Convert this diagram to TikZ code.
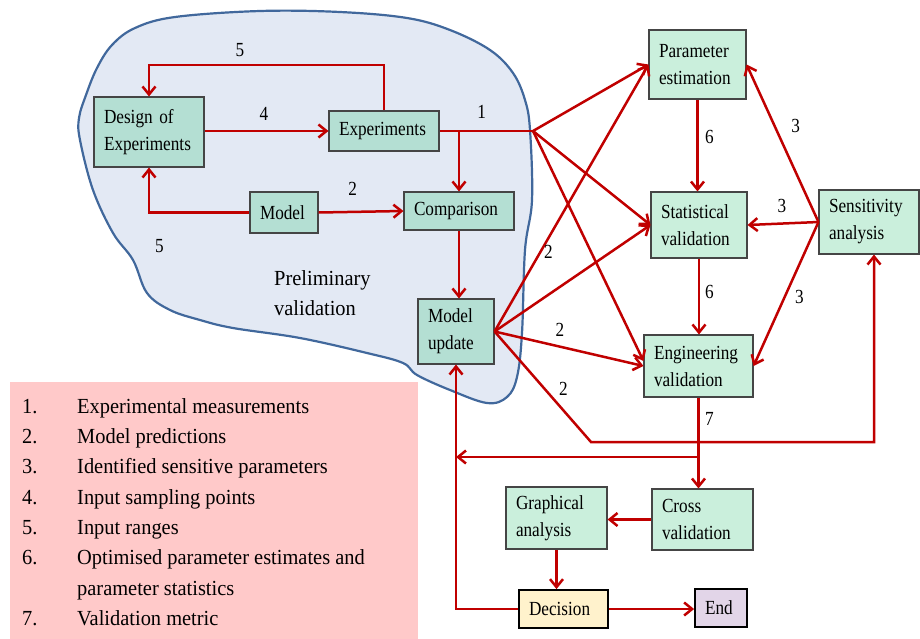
\documentclass[tikz,border=0pt]{standalone}
\usepackage{fontspec}
\setmainfont{Liberation Serif}
\newfontfamily\boxfont[FakeStretch=0.86]{Liberation Serif}
\newfontfamily\legfont[FakeStretch=0.95]{Liberation Serif}
\usetikzlibrary{arrows.meta}
\definecolor{arrred}{HTML}{C00000}
\definecolor{infill}{HTML}{B4DFD3}
\definecolor{outfill}{HTML}{CAEFDC}
\definecolor{boxline}{HTML}{454545}
\definecolor{blobfill}{HTML}{E3E9F4}
\definecolor{blobline}{HTML}{41689C}
\definecolor{legpink}{HTML}{FFC9C9}
\definecolor{decfill}{HTML}{FFF2CC}
\definecolor{endfill}{HTML}{E2D5E8}
\begin{document}
\begin{tikzpicture}[x=1pt,y=-1pt,
  basebox/.style={draw=boxline, line width=1.1pt, inner xsep=10pt, inner ysep=0pt,
    align=left, font=\boxfont\fontsize{20}{27}\selectfont},
  inbox/.style={basebox, fill=infill},
  outbox/.style={basebox, fill=outfill},
  termbox/.style={basebox, draw=black, line width=1.8pt},
  rl/.style={draw=arrred, line width=2.5pt},
  arr/.style={rl, -{Straight Barb[length=8pt,width=13pt]}},
  lbl/.style={inner sep=0pt, font=\boxfont\fontsize{20}{24}\selectfont},
  legtxt/.style={inner sep=0pt, anchor=base west, font=\legfont\fontsize{21.5}{30}\selectfont}
]
\useasboundingbox (0,0) rectangle (920,638);

% preliminary validation region
\draw[fill=blobfill, draw=blobline, line width=2.2pt]
  plot[smooth cycle, tension=0.6] coordinates {
  (260,11) (340,12) (407,18) (450,30) (490,50) (513,73) (525,100) (530,130)
  (532,200) (525,250) (522,333) (517,377) (507,397) (487,403) (450,390)
  (417,375) (403,363) (367,353) (300,338) (233,328) (200,320) (170,310)
  (147,293) (133,260) (113,233) (93,190) (80,140) (79,118) (86,95)
  (97,68) (112,45) (135,28) (175,17)};
\node[inner sep=0pt, anchor=north west, align=left,
  font=\legfont\fontsize{21.5}{30}\selectfont] (prelim) at (274,270) {Preliminary\\validation};

% legend
\fill[legpink] (10,382) rectangle (418,640);
\foreach \n/\t/\y in {1./Experimental measurements/413.3,
                      2./Model predictions/443.6,
                      3./Identified sensitive parameters/473.9,
                      4./Input sampling points/504.2,
                      5./Input ranges/534.5,
                      6./Optimised parameter estimates and/564.8,
                      /parameter statistics/595.1,
                      7./Validation metric/625.4}{
  \node[legtxt] (ln\y) at (22,\y) {\n};
  \node[legtxt] (lt\y) at (77,\y) {\t};
}

% boxes
\node[inbox, minimum width=110pt, minimum height=70pt, text width=90pt] (doe) at (149,132) {Design of\\Experiments};
\node[inbox, minimum width=110pt, minimum height=40pt, text width=90pt] (exp) at (384,131) {Experiments};
\node[inbox, minimum width=68pt, minimum height=41pt, text width=48pt] (model) at (284,212.5) {Model};
\node[inbox, minimum width=110pt, minimum height=38pt, text width=90pt] (comp) at (459,211) {Comparison};
\node[inbox, minimum width=76pt, minimum height=65pt, text width=56pt] (mupd) at (456,331.5) {Model\\update};
\node[outbox, minimum width=97pt, minimum height=69pt, text width=77pt] (pest) at (697.5,64.5) {Parameter\\estimation};
\node[outbox, minimum width=96pt, minimum height=66pt, text width=76pt] (sval) at (699,225) {Statistical\\validation};
\node[outbox, minimum width=100pt, minimum height=64pt, text width=80pt] (sens) at (869,222) {Sensitivity\\analysis};
\node[outbox, minimum width=109pt, minimum height=62pt, text width=89pt] (eval) at (698.5,366) {Engineering\\validation};
\node[outbox, minimum width=101pt, minimum height=61pt, text width=81pt] (cval) at (702.5,519.5) {Cross\\validation};
\node[outbox, minimum width=101pt, minimum height=62pt, text width=81pt] (gana) at (556.5,518) {Graphical\\analysis};
\node[termbox, fill=decfill, minimum width=89pt, minimum height=38pt, text width=69pt] (dec) at (563.5,609) {Decision};
\node[termbox, fill=endfill, minimum width=52pt, minimum height=38pt, text width=32pt] (endn) at (721,608) {End};

\coordinate (j1) at (533,131);
\coordinate (b7) at (698.5,457);
\coordinate (c2) at (591,442);

% connectors inside region
\draw[arr] (exp.north) -- (exp.north |- 0,65) -| (doe.north);
\draw[arr] (doe.east |- exp.west) -- (exp.west);
\draw[arr] (model.west) -| (doe.south);
\draw[arr] (model.east) -- (comp.west);
\draw[rl] (exp.east) -- (j1);
\draw[arr] (comp.north |- exp.east) -- (comp.north);
\draw[arr] (comp.south) -- (comp.south |- mupd.north);

% experimental measurements fan out
\draw[arr] (j1) -- (pest.west);
\draw[arr] (j1) -- (sval.west);
\draw[arr] (j1) -- ([yshift=5pt]eval.west);

% model predictions fan out
\draw[arr] (mupd.east) -- (pest.west);
\draw[arr] (mupd.east) -- (sval.west);
\draw[arr] (mupd.east) -- (eval.west);
\draw[arr] (mupd.east) -- (c2) -| ([xshift=5pt]sens.south);

% sensitivity
\draw[arr] (sens.west) -- (pest.east);
\draw[arr] (sens.west) -- (sval.east);
\draw[arr] (sens.west) -- (eval.east);

% vertical chain
\draw[arr] (pest.south) -- (pest.south |- sval.north);
\draw[arr] (sval.south) -- (sval.south |- eval.north);
\draw[arr] (eval.south) -- (eval.south |- cval.north);
\draw[arr] (b7) -- (mupd.south |- b7);
\draw[arr] (cval.west) -- (cval.west -| gana.east);
\draw[arr] (gana.south) -- (gana.south |- dec.north);
\draw[arr] (dec.east) -- (dec.east -| endn.west);
\draw[arr] (dec.west) -| (mupd.south);

% labels
\node[lbl] (t5a) at (240,49.7) {5};
\node[lbl] (t4) at (264,114.3) {4};
\node[lbl] (t1) at (481.7,111.7) {1};
\node[lbl] (t2a) at (352.7,189.3) {2};
\node[lbl] (t5b) at (159.3,245.7) {5};
\node[lbl] (t6a) at (709.3,136.7) {6};
\node[lbl] (t3a) at (795.7,126) {3};
\node[lbl] (t3b) at (782,205.7) {3};
\node[lbl] (t2b) at (548.3,252.3) {2};
\node[lbl] (t6b) at (709.3,291.7) {6};
\node[lbl] (t3c) at (799.3,296.7) {3};
\node[lbl] (t2c) at (560,330) {2};
\node[lbl] (t2d) at (563.3,389.3) {2};
\node[lbl] (t7) at (709.3,419.3) {7};
\end{tikzpicture}
\end{document}
